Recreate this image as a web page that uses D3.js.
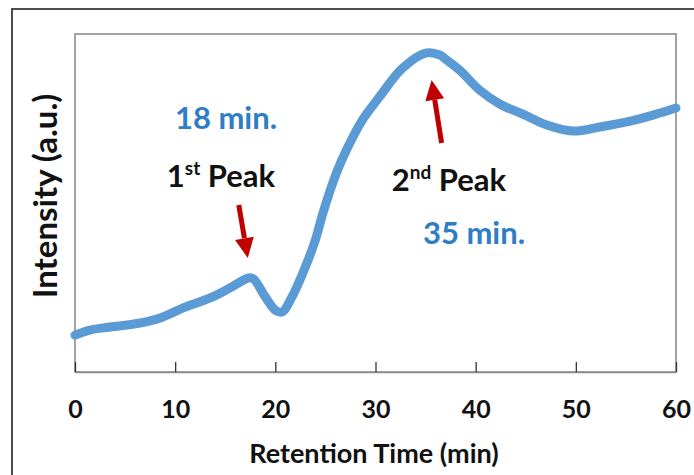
<!DOCTYPE html>
<html>
<head>
<meta charset="utf-8">
<script src="https://cdn.jsdelivr.net/npm/d3@7"></script>
<style>
  html, body { margin: 0; padding: 0; background: #fff; }
  svg { display: block; }
  text { font-family: Lato, "Open Sans", sans-serif; font-weight: bold; }
</style>
</head>
<body>
<div id="chart"></div>
<script>
// Chromatogram trace: retention time (min) vs intensity (arbitrary units, 0-100)
const retentionTime = [0, 1.5, 3.5, 6.5, 8.5, 11, 13.5, 15.5, 17.3, 17.8, 19, 20, 20.7, 21.5, 22.75,
  24, 24.75, 26.1, 27.1, 28.7, 30.4, 32.7, 35.1, 36.4, 37.1, 38.4, 40.4, 42.4, 44.7, 47.1, 49.7,
  52.4, 55.1, 57.7, 60];
const intensity = [10.9, 12.4, 13.3, 14.5, 16.0, 19.2, 21.9, 24.9, 27.8, 27.6, 22.2, 18.3, 17.8, 21.3, 29.3,
  39.1, 47.0, 58.9, 65.7, 74.6, 81.4, 89.9, 94.4, 93.8, 92.3, 89.3, 83.4, 79.3, 76.3, 73.1, 71.3,
  72.5, 74.0, 76.0, 78.1];
const xTicks = [0, 10, 20, 30, 40, 50, 60];
const peakTimes = ["18 min.", "35 min."];
const peakNames = [["1", "st", " Peak"], ["2", "nd", " Peak"]];

const W = 694, H = 475;
const margin = { left: 75, top: 34, right: 18, bottom: 103 };
const plotW = W - margin.left - margin.right;
const plotH = H - margin.top - margin.bottom;

const svg = d3.select("#chart").append("svg").attr("width", W).attr("height", H);

// outer frame
svg.append("rect").attr("x", 12).attr("y", 9).attr("width", W + 20).attr("height", H + 20)
  .attr("fill", "none").attr("stroke", "#3a3a3a").attr("stroke-width", 1.8);

const x = d3.scaleLinear().domain([0, 60]).range([margin.left, margin.left + plotW]);
const y = d3.scaleLinear().domain([0, 100]).range([margin.top + plotH, margin.top]);

// plot area box
svg.append("rect").attr("x", margin.left).attr("y", margin.top)
  .attr("width", plotW).attr("height", plotH)
  .attr("fill", "none").attr("stroke", "#8c8c8c").attr("stroke-width", 1.6);

// x axis with inward ticks
const xAxis = svg.append("g").attr("transform", `translate(0,${margin.top + plotH})`)
  .call(d3.axisBottom(x).tickValues(xTicks).tickFormat(d3.format("d"))
    .tickSizeInner(-10).tickSizeOuter(0));
xAxis.select(".domain").attr("stroke", "#8c8c8c").attr("stroke-width", 1.6);
xAxis.selectAll(".tick line").attr("stroke", "#333").attr("stroke-width", 1.3);
xAxis.selectAll(".tick text").attr("y", 46).attr("dy", 0)
  .attr("font-size", 25).attr("fill", "#111")
  .style("font-family", "Lato, sans-serif").style("font-weight", "bold");

// axis titles
svg.append("text").attr("x", 374).attr("y", 463).attr("text-anchor", "middle")
  .attr("font-size", 27).attr("fill", "#111").text("Retention Time (min)");
svg.append("text").attr("transform", "translate(57,196) rotate(-90)").attr("text-anchor", "middle")
  .attr("font-size", 33).attr("fill", "#111").text("Intensity (a.u.)");

// trace
const line = d3.line().x((d, i) => x(retentionTime[i])).y(d => y(d)).curve(d3.curveCatmullRom.alpha(0.5));
svg.append("path").datum(intensity).attr("d", line)
  .attr("fill", "none").attr("stroke", "#5b9bd5").attr("stroke-width", 9)
  .attr("stroke-linecap", "round").attr("stroke-linejoin", "round");

// annotations
const blue = "#2e7dc6", red = "#c00000";
svg.append("text").attr("x", 226).attr("y", 129).attr("text-anchor", "middle")
  .attr("font-size", 31).attr("fill", blue).text(peakTimes[0]);
svg.append("text").attr("x", 474).attr("y", 244).attr("text-anchor", "middle")
  .attr("font-size", 31).attr("fill", blue).text(peakTimes[1]);

function peakLabel(cx, py, parts) {
  const t = svg.append("text").attr("x", cx).attr("y", py).attr("text-anchor", "middle")
    .attr("font-size", 31).attr("fill", "#111");
  t.append("tspan").text(parts[0]);
  t.append("tspan").attr("font-size", 19).attr("dy", -12).text(parts[1]);
  t.append("tspan").attr("dy", 12).text(parts[2]);
}
peakLabel(221, 187, peakNames[0]);
peakLabel(449, 191, peakNames[1]);

function arrow(x1, y1, x2, y2) {
  const ang = Math.atan2(y2 - y1, x2 - x1);
  const headL = 20, headW = 9.5;
  const bx = x2 - headL * Math.cos(ang), by = y2 - headL * Math.sin(ang);
  svg.append("line").attr("x1", x1).attr("y1", y1).attr("x2", bx).attr("y2", by)
    .attr("stroke", red).attr("stroke-width", 5);
  const px = -Math.sin(ang), py = Math.cos(ang);
  svg.append("path")
    .attr("d", `M${x2},${y2}L${bx + px * headW},${by + py * headW}L${bx - px * headW},${by - py * headW}Z`)
    .attr("fill", red);
}
arrow(x(16.35), 205, x(17.25), 258);
arrow(x(36.6), 143, x(35.6), 80);
</script>
</body>
</html>
